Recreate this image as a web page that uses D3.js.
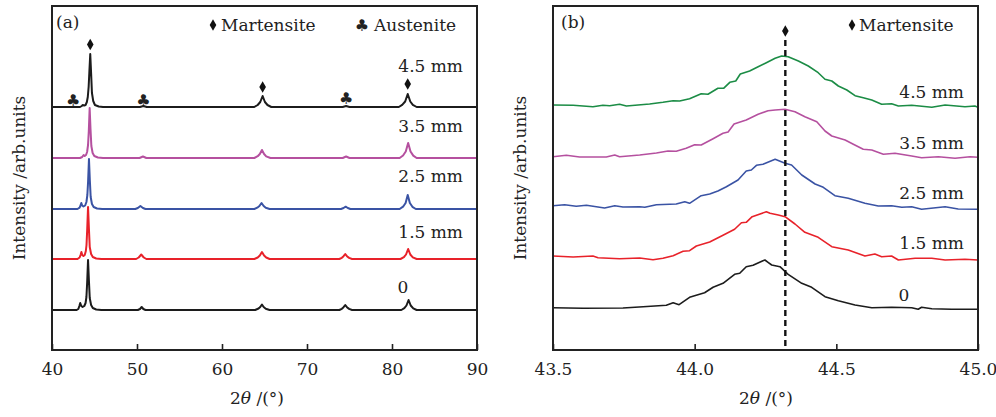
<!DOCTYPE html>
<html>
<head>
<meta charset="utf-8">
<script src="https://cdn.jsdelivr.net/npm/d3@7/dist/d3.min.js"></script>
<style>
  body { margin: 0; background: #fff; }
  svg { display: block; }
  text { font-family: "DejaVu Serif", serif; fill: #222; }
</style>
</head>
<body>
<svg id="chart" width="996" height="417"></svg>
<script>
// ---------- data ----------
const samples = ["0", "1.5 mm", "2.5 mm", "3.5 mm", "4.5 mm"];

// (a) full XRD scans, 2θ (°) vs intensity above each scan's own baseline
const offsetsA = [40, 91, 141, 192, 243];
const scanA_0 = [[40,0],[42.9,0],[43.1,1],[43.22,4],[43.32,7],[43.45,4],[43.6,3],[43.8,4],[43.95,7],[44.05,13],[44.14,28],[44.24,50],[44.34,30],[44.44,12],[44.6,5],[44.8,2],[45.2,0.5],[45.8,0],[50.1,0],[50.35,1],[50.55,3],[50.75,1],[51.0,0],[63.9,0],[64.3,1.5],[64.5,3],[64.7,5.5],[64.9,3],[65.15,1.3],[65.6,0],[73.8,0],[74.1,1.2],[74.3,2.8],[74.5,5],[74.7,2.8],[74.95,1.1],[75.3,0],[81.1,0],[81.45,1.8],[81.7,4.5],[81.95,10],[82.2,4.5],[82.5,1.6],[82.9,0],[90,0]];
const scanA_15 = [[40,0],[43.0,0],[43.25,1.5],[43.38,4.5],[43.46,7],[43.56,4],[43.7,3],[43.85,4],[43.98,8],[44.06,14],[44.14,29],[44.24,52],[44.34,31],[44.44,12],[44.6,5],[44.8,2],[45.2,0.5],[45.8,0],[49.9,0],[50.2,1.5],[50.5,4.5],[50.8,1.5],[51.1,0],[63.8,0],[64.2,1.5],[64.45,3.5],[64.7,7],[64.95,3.5],[65.2,1.5],[65.6,0],[73.8,0],[74.1,1.2],[74.3,2.8],[74.5,5],[74.7,2.8],[74.95,1.1],[75.3,0],[81.0,0],[81.4,1.8],[81.65,4.5],[81.9,10],[82.15,4.5],[82.45,1.6],[82.9,0],[90,0]];
const scanA_25 = [[40,0],[43.0,0],[43.25,1.3],[43.37,3.8],[43.45,6],[43.55,3.5],[43.7,2.5],[43.9,3.5],[44.05,7],[44.16,14],[44.25,28],[44.35,50],[44.45,29],[44.55,12],[44.7,5],[44.9,2],[45.3,0.5],[45.9,0],[49.8,0],[50.1,1],[50.4,3],[50.7,1],[51.0,0],[63.8,0],[64.15,1.3],[64.4,3],[64.65,6],[64.9,3],[65.15,1.2],[65.6,0],[74.0,0],[74.3,1],[74.55,2.3],[74.8,1],[75.1,0],[80.9,0],[81.3,2.3],[81.6,6],[81.85,14],[82.1,6],[82.4,2.2],[82.8,0],[90,0]];
const scanA_35 = [[40,0],[43.3,0],[43.55,1],[43.72,3],[43.85,2],[44.0,3],[44.13,6],[44.24,13],[44.33,27],[44.43,50],[44.53,29],[44.63,12],[44.78,5],[44.98,2],[45.4,0.5],[46,0],[50.3,0],[50.7,1.5],[51.1,0],[63.8,0],[64.2,1.8],[64.45,4],[64.7,8],[64.95,4],[65.2,1.6],[65.7,0],[74.2,0],[74.6,1.5],[75.0,0],[80.9,0],[81.3,2.5],[81.62,6.5],[81.9,15],[82.18,6.5],[82.5,2.4],[82.9,0],[90,0]];
const scanA_45 = [[40,0],[43.3,0],[43.5,1],[43.62,2],[43.78,1.4],[43.95,2],[44.1,5],[44.21,10],[44.31,20],[44.4,36],[44.5,53],[44.6,34],[44.7,14],[44.85,6],[45.05,2],[45.5,0.5],[46,0],[50.35,0],[50.75,1],[51.15,0],[63.8,0],[64.2,2],[64.5,5],[64.78,11],[65.05,5],[65.35,2],[65.8,0],[74.2,0],[74.6,1],[75.0,0],[80.8,0],[81.2,2.2],[81.55,5.5],[81.85,13],[82.15,5.5],[82.45,2.2],[82.9,0],[90,0]];
const scansA = [scanA_0, scanA_15, scanA_25, scanA_35, scanA_45];

// phase markers on the 4.5 mm scan (2θ, height above its baseline)
const martensitePeaks = [[44.5, 62.5], [64.78, 20], [81.85, 23]];
const austenitePeaks = [[42.5, 7], [50.75, 7], [74.6, 9]];

// (b) detail of the martensite (110) reflection
const offsetsB = [42, 94, 144, 194, 244];
const scanB_0 = [[43.5,0.3],[43.606,-0.3],[43.747,0],[43.818,1.3],[43.9,2.7],[43.924,5.3],[43.945,3.3],[43.982,10.7],[44.035,15.3],[44.065,20.7],[44.1,24.7],[44.141,33.7],[44.159,34.7],[44.182,41.3],[44.206,42.7],[44.241,47.3],[44.248,48],[44.259,45.7],[44.272,43],[44.301,41.3],[44.33,33.7],[44.378,24.7],[44.413,20.7],[44.46,11.3],[44.507,7.3],[44.566,3],[44.625,0.3],[44.695,0.7],[44.766,0.3],[44.789,-1.3],[44.801,0.7],[44.837,-0.7],[44.907,-1.3],[45.0,-1.3]];
const scanB_15 = [[43.5,0],[43.571,-1],[43.641,0],[43.659,-1.7],[43.735,-2.7],[43.806,-2],[43.853,-3.7],[43.888,-2.3],[43.924,0.3],[43.959,4.7],[43.982,5.3],[44.006,10],[44.053,14],[44.1,20.7],[44.141,26.7],[44.165,33.3],[44.182,33.7],[44.203,39.3],[44.253,44.3],[44.266,42.7],[44.295,41],[44.319,39.3],[44.354,32],[44.389,23.7],[44.436,18.7],[44.484,9.3],[44.542,6],[44.601,0],[44.636,2],[44.66,-0.7],[44.695,0],[44.719,-4],[44.778,-2.3],[44.837,-2.3],[44.884,-4],[44.954,-3.3],[45.0,-4]];
const scanB_25 = [[43.5,0.3],[43.541,1.3],[43.582,-0.3],[43.618,0.7],[43.653,-0.7],[43.682,-2],[43.718,0.3],[43.747,-1],[43.806,-0.7],[43.824,-1.3],[43.865,1.3],[43.935,2],[43.965,4.3],[43.982,2.7],[44.023,10.3],[44.053,12],[44.082,15],[44.112,19.3],[44.153,26],[44.182,35],[44.2,36],[44.218,40.7],[44.241,41.7],[44.284,46.7],[44.319,42.7],[44.342,41],[44.378,31],[44.425,22],[44.454,18.7],[44.495,10.3],[44.542,7.7],[44.601,2.7],[44.648,0],[44.695,0.3],[44.731,-1.3],[44.766,-0.7],[44.801,-3.3],[44.884,-0.7],[44.93,-3],[45.0,-3.3]];
const scanB_35 = [[43.5,-0.7],[43.547,0.7],[43.594,-1],[43.688,-1],[43.718,1],[43.735,-0.7],[43.806,1],[43.865,3],[43.906,5],[43.935,4.7],[43.97,7.7],[44.0,11.3],[44.023,11],[44.065,17.3],[44.1,22.7],[44.118,24],[44.139,32],[44.182,36],[44.224,41.7],[44.259,45.3],[44.284,46],[44.319,46.7],[44.354,44.3],[44.389,39.3],[44.431,34.3],[44.46,25],[44.484,20],[44.531,16],[44.56,11.7],[44.595,6.7],[44.625,6],[44.666,1.7],[44.707,2.7],[44.766,0],[44.801,-1.7],[44.86,-0.7],[44.919,-2.3],[44.972,-0.7],[45.0,-1.3]];
const scanB_45 = [[43.5,1],[43.571,0.7],[43.641,-0.7],[43.676,0.7],[43.7,0.3],[43.735,1.7],[43.759,0],[43.841,2],[43.888,3.7],[43.924,5.3],[43.947,5],[43.982,7.3],[44.023,12.3],[44.047,11.7],[44.082,17.7],[44.102,17.7],[44.124,23.7],[44.145,25],[44.161,32],[44.194,35],[44.224,39.3],[44.253,43.3],[44.284,47.7],[44.307,50],[44.33,49.3],[44.366,45],[44.401,40],[44.436,33.3],[44.46,26.7],[44.484,25],[44.507,20],[44.537,16],[44.566,10.3],[44.595,8.3],[44.625,6],[44.66,1.7],[44.695,2.3],[44.719,0],[44.766,0.7],[44.837,-1.3],[44.884,1],[44.954,-0.7],[44.989,0],[45.0,-1.3]];
const scansB = [scanB_0, scanB_15, scanB_25, scanB_35, scanB_45];
const martensiteRef = 44.32;

const ticksA = [40, 50, 60, 70, 80, 90];
const ticksB = [43.5, 44.0, 44.5, 45.0];

// ---------- styles ----------
const colorsA = ["#1c1c1c", "#e8222a", "#3a53a4", "#b5509f", "#1c1c1c"];
const colorsB = ["#1c1c1c", "#e8222a", "#3a53a4", "#b5509f", "#1b8c45"];
const FS = 17;

const svg = d3.select("#chart");
const plotTop = 6, plotBottom = 350;
const y = d3.scaleLinear().domain([0, plotBottom - plotTop]).range([plotBottom, plotTop]);

const xA = d3.scaleLinear().domain([40, 90]).range([52, 477]);
const xB = d3.scaleLinear().domain([43.5, 45.0]).range([553, 978]);

function panel(x, ticks, fmt, clipId) {
  const [x0, x1] = x.range();
  svg.append("clipPath").attr("id", clipId)
    .append("rect").attr("x", x0).attr("y", plotTop).attr("width", x1 - x0).attr("height", plotBottom - plotTop);
  const ax = svg.append("g").attr("transform", `translate(0,${plotBottom})`)
    .call(d3.axisBottom(x).tickValues(ticks).tickSizeInner(-6).tickSizeOuter(0).tickPadding(13).tickFormat(fmt));
  ax.select(".domain").remove();
  ax.selectAll(".tick line").attr("stroke", "#222").attr("stroke-width", 1.6);
  ax.selectAll(".tick text").attr("font-family", "DejaVu Serif").attr("font-size", FS).attr("fill", "#222");
  return svg.append("g").attr("clip-path", `url(#${clipId})`);
}

function frame(x) {
  const [x0, x1] = x.range();
  svg.append("rect").attr("x", x0).attr("y", plotTop).attr("width", x1 - x0).attr("height", plotBottom - plotTop)
    .attr("fill", "none").attr("stroke", "#222").attr("stroke-width", 2);
}

// ---------- panel (a) ----------
const gA = panel(xA, ticksA, d3.format("d"), "clipA");
scansA.forEach((scan, i) => {
  const line = d3.line().x(d => xA(d[0])).y(d => y(offsetsA[i] + d[1]));
  gA.append("path").datum(scan).attr("d", line)
    .attr("fill", "none").attr("stroke", colorsA[i]).attr("stroke-width", 2).attr("stroke-linejoin", "round");
});
const topOff = offsetsA[4];
martensitePeaks.forEach(([t, v]) => {
  svg.append("path").attr("d", d3.symbol(d3.symbolDiamond, 38)())
    .attr("transform", `translate(${xA(t)},${y(topOff + v)})`).attr("fill", "#111");
});
austenitePeaks.forEach(([t, v]) => {
  svg.append("text").attr("x", xA(t)).attr("y", y(topOff + v) + 6)
    .attr("text-anchor", "middle").attr("font-size", 16)
    .style("font-family", "DejaVu Sans").text("\u2663");
});
frame(xA);

// legend (a)
svg.append("path").attr("d", d3.symbol(d3.symbolDiamond, 38)()).attr("transform", "translate(213,25)").attr("fill", "#111");
svg.append("text").attr("x", 221).attr("y", 31).attr("font-size", FS).text("Martensite");
svg.append("text").attr("x", 362).attr("y", 31).attr("text-anchor", "middle").attr("font-size", 16)
  .style("font-family", "DejaVu Sans").text("\u2663");
svg.append("text").attr("x", 374).attr("y", 31).attr("font-size", FS).text("Austenite");
svg.append("text").attr("x", 56).attr("y", 28).attr("font-size", FS).text("(a)");

const labelYA = [293, 238, 182, 132, 72];
samples.forEach((s, i) => {
  svg.append("text").attr("x", i === 0 ? 403 : 463).attr("y", labelYA[i])
    .attr("text-anchor", i === 0 ? "middle" : "end").attr("font-size", FS).text(s);
});

// ---------- panel (b) ----------
const gB = panel(xB, ticksB, d3.format(".1f"), "clipB");
scansB.forEach((scan, i) => {
  const line = d3.line().x(d => xB(d[0])).y(d => y(offsetsB[i] + d[1]));
  gB.append("path").datum(scan).attr("d", line)
    .attr("fill", "none").attr("stroke", colorsB[i]).attr("stroke-width", 1.6).attr("stroke-linejoin", "round");
});
svg.append("line").attr("x1", xB(martensiteRef)).attr("x2", xB(martensiteRef))
  .attr("y1", 40).attr("y2", plotBottom)
  .attr("stroke", "#111").attr("stroke-width", 2.4).attr("stroke-dasharray", "6,4");
svg.append("path").attr("d", d3.symbol(d3.symbolDiamond, 38)())
  .attr("transform", `translate(${xB(martensiteRef)},31)`).attr("fill", "#111");
frame(xB);

svg.append("path").attr("d", d3.symbol(d3.symbolDiamond, 38)()).attr("transform", "translate(852,25)").attr("fill", "#111");
svg.append("text").attr("x", 859).attr("y", 31).attr("font-size", FS).text("Martensite");
svg.append("text").attr("x", 561).attr("y", 28).attr("font-size", FS).text("(b)");

const labelYB = [301, 249, 199, 149, 98];
samples.forEach((s, i) => {
  svg.append("text").attr("x", i === 0 ? 904 : 964).attr("y", labelYB[i])
    .attr("text-anchor", i === 0 ? "middle" : "end").attr("font-size", FS).text(s);
});

// ---------- axis titles ----------
function xTitle(cx) {
  const t = svg.append("text").attr("x", cx).attr("y", 404).attr("text-anchor", "middle").attr("font-size", FS);
  t.append("tspan").text("2");
  t.append("tspan").attr("font-style", "italic").text("\u03b8");
  t.append("tspan").text(" /(\u00b0)");
}
xTitle(257);
xTitle(766);

function yTitle(bx) {
  svg.append("text").attr("transform", `translate(${bx},178) rotate(-90)`)
    .attr("text-anchor", "middle").attr("font-size", FS).text("Intensity /arb.units");
}
yTitle(25);
yTitle(526);
</script>
</body>
</html>
